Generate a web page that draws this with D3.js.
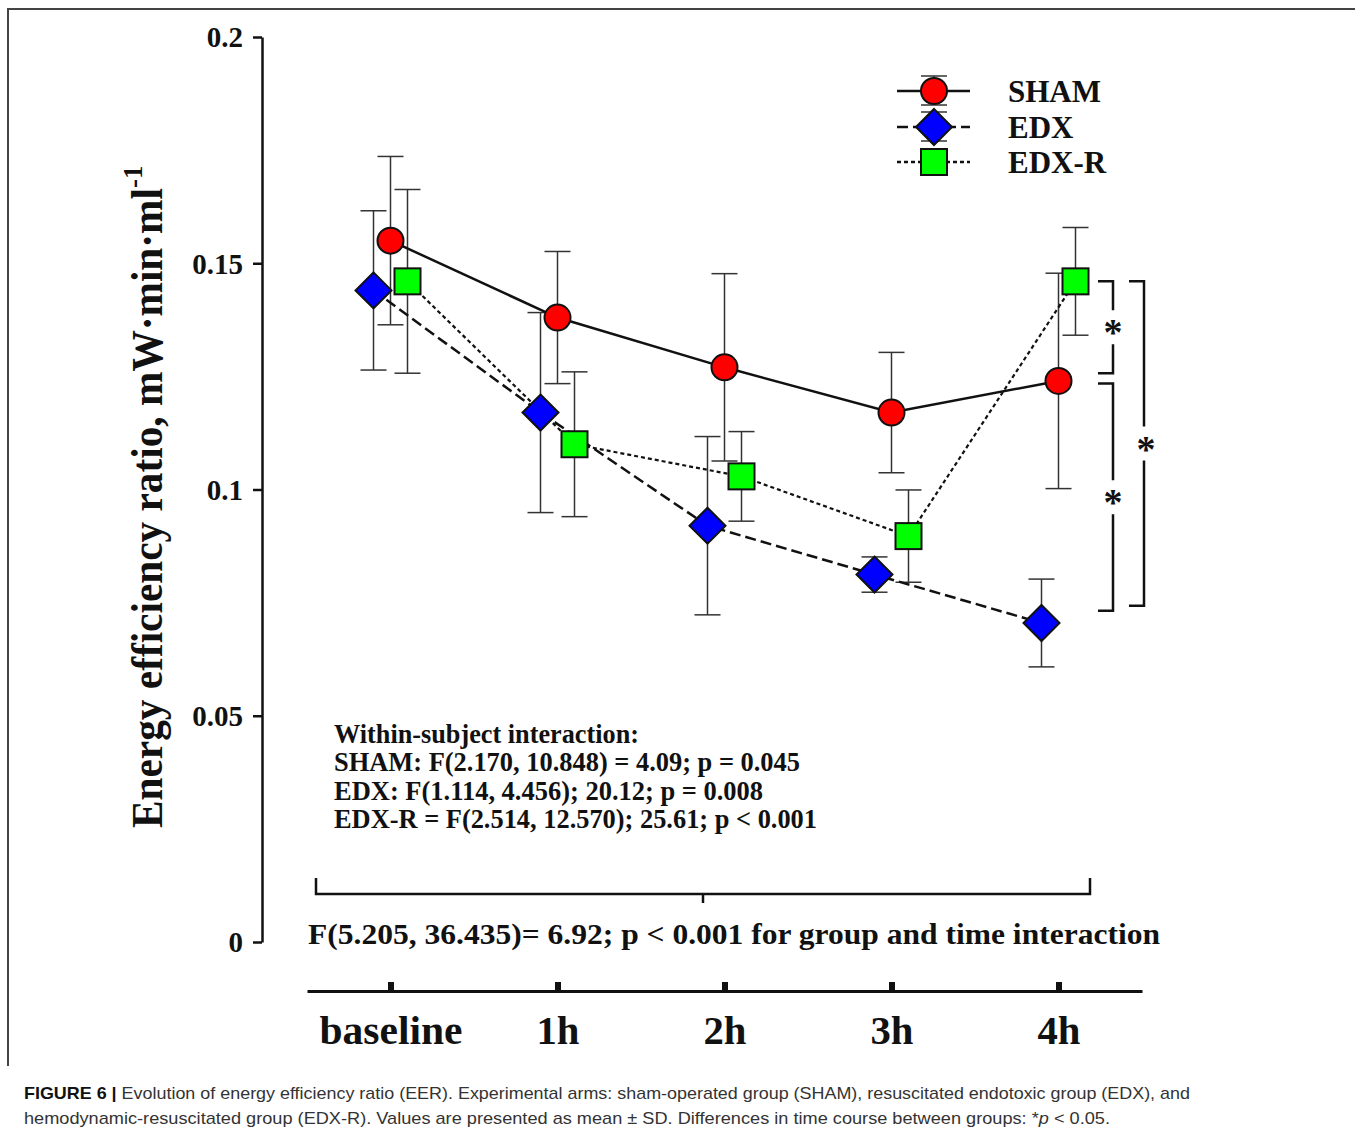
<!DOCTYPE html>
<html>
<head>
<meta charset="utf-8">
<script src="https://cdn.jsdelivr.net/npm/d3@7"></script>
<style>
  html, body { margin: 0; padding: 0; background: #fff; }
  svg { display: block; }
</style>
</head>
<body>
<svg id="chart" width="1355" height="1134"></svg>
<script>
// ---- data ----
const categories = ["baseline", "1h", "2h", "3h", "4h"];
const yTickValues = [0, 0.05, 0.1, 0.15, 0.2];
const yTickLabels = ["0", "0.05", "0.1", "0.15", "0.2"];
const seriesNames = ["SHAM", "EDX", "EDX-R"];
const shamMean = [0.155, 0.138, 0.127, 0.117, 0.124];
const shamSD   = [0.0186, 0.0146, 0.0207, 0.0133, 0.0238];
const edxMean  = [0.144, 0.117, 0.092, 0.0812, 0.0705];
const edxSD    = [0.0176, 0.0221, 0.0197, 0.0039, 0.0097];
const edxrMean = [0.146, 0.110, 0.1029, 0.0897, 0.146];
const edxrSD   = [0.0203, 0.0160, 0.0099, 0.0102, 0.0119];
// significance brackets at 4h (value extents)
const bracketTop    = [0.146, 0.1234, 0.146];
const bracketBottom = [0.1257, 0.0732, 0.0743];
const bracketLabel  = ["*", "*", "*"];
const statsLines = [
  "Within-subject interaction:",
  "SHAM: F(2.170, 10.848) = 4.09; p = 0.045",
  "EDX: F(1.114, 4.456); 20.12; p = 0.008",
  "EDX-R = F(2.514, 12.570); 25.61; p < 0.001"
];
const groupTimeText = "F(5.205, 36.435)= 6.92; p < 0.001 for group and time interaction";
const yLabel = "Energy efficiency ratio, mW\u00B7min\u00B7ml";

// ---- setup ----
const svg = d3.select("#chart");
const serif = "'Liberation Serif', 'Times New Roman', serif";
const sans = "'Liberation Sans', Arial, sans-serif";

// frame
svg.append("path").attr("d", "M8,1066 V9 H1355")
  .attr("fill", "none").attr("stroke", "#444").attr("stroke-width", 2);

const y = d3.scaleLinear().domain([0, 0.2]).range([942, 37]);
const x = d3.scalePoint().domain(categories).range([307, 1142]).padding(0.5);

// y axis
const yAxis = d3.axisLeft(y).tickValues(yTickValues)
  .tickFormat((d, i) => yTickLabels[i]).tickSize(9).tickSizeOuter(0).tickPadding(10);
const gy = svg.append("g").attr("transform", "translate(262,0)").call(yAxis);
gy.select(".domain").attr("stroke", "#111").attr("stroke-width", 2.5);
gy.selectAll(".tick line").attr("stroke", "#111").attr("stroke-width", 2.5);
gy.selectAll(".tick text").attr("font-family", serif).attr("font-weight", "bold")
  .attr("font-size", 29).attr("fill", "#111").attr("dy", "0.34em");

// x axis
const xAxis = d3.axisBottom(x).tickSize(-9).tickSizeOuter(0).tickPadding(0);
const gx = svg.append("g").attr("transform", "translate(0,991)").call(xAxis);
gx.select(".domain").attr("stroke", "#111").attr("stroke-width", 3);
gx.selectAll(".tick line").attr("stroke", "#111").attr("stroke-width", 6);
gx.selectAll(".tick text").attr("font-family", serif).attr("font-weight", "bold")
  .attr("font-size", 40).attr("fill", "#111").attr("y", 53).attr("dy", 0)
  .each(function(d) {
    if (d === "baseline") d3.select(this).attr("textLength", 143).attr("lengthAdjust", "spacingAndGlyphs");
    else d3.select(this).attr("textLength", 43).attr("lengthAdjust", "spacingAndGlyphs");
  });

// y label
const yl = svg.append("text").attr("transform", "translate(162,828) rotate(-90)")
  .attr("font-family", serif).attr("font-weight", "bold").attr("font-size", 44).attr("fill", "#111");
yl.append("tspan").attr("textLength", 640).attr("lengthAdjust", "spacingAndGlyphs").text(yLabel);
yl.append("tspan").attr("font-size", 27).attr("dy", -20).text("-1");

// series
const series = [
  { name: "SHAM", mean: shamMean, sd: shamSD, fill: "#ff0000", dash: null, offset: 0, shape: "circle" },
  { name: "EDX", mean: edxMean, sd: edxSD, fill: "#0000ff", dash: "11,5", offset: -17, shape: "diamond" },
  { name: "EDX-R", mean: edxrMean, sd: edxrSD, fill: "#00ff00", dash: "4,3", offset: 17, shape: "square" }
];

function drawMarker(g, shape, fill, cx, cy) {
  if (shape === "circle") {
    g.append("circle").attr("cx", cx).attr("cy", cy).attr("r", 13)
      .attr("fill", fill).attr("stroke", "#111").attr("stroke-width", 2);
  } else if (shape === "diamond") {
    const h = 18;
    g.append("path").attr("d", `M${cx},${cy - h} L${cx + h},${cy} L${cx},${cy + h} L${cx - h},${cy} Z`)
      .attr("fill", fill).attr("stroke", "#111").attr("stroke-width", 2);
  } else {
    const s = 13;
    g.append("rect").attr("x", cx - s).attr("y", cy - s).attr("width", 2 * s).attr("height", 2 * s)
      .attr("fill", fill).attr("stroke", "#111").attr("stroke-width", 2);
  }
}

const gErr = svg.append("g");
const gLines = svg.append("g");
const gMarks = svg.append("g");
const capW = 13;

series.forEach(s => {
  const pts = categories.map((c, i) => ({ cx: x(c) + s.offset, m: s.mean[i], sd: s.sd[i] }));
  pts.forEach(p => {
    const y1 = y(p.m + p.sd), y2 = y(p.m - p.sd);
    gErr.append("line").attr("x1", p.cx).attr("x2", p.cx).attr("y1", y1).attr("y2", y2)
      .attr("stroke", "#333").attr("stroke-width", 1.5);
    [y1, y2].forEach(yy => gErr.append("line").attr("x1", p.cx - capW).attr("x2", p.cx + capW)
      .attr("y1", yy).attr("y2", yy).attr("stroke", "#333").attr("stroke-width", 1.5));
  });
  const line = d3.line().x(p => p.cx).y(p => y(p.m));
  gLines.append("path").attr("d", line(pts)).attr("fill", "none").attr("stroke", "#111")
    .attr("stroke-width", s.dash === "4,3" ? 2.2 : 2.5).attr("stroke-dasharray", s.dash);
  pts.forEach(p => drawMarker(gMarks, s.shape, s.fill, p.cx, y(p.m)));
});

// legend
const legY = [91, 127, 162];
const gLeg = svg.append("g");
series.forEach((s, i) => {
  const ly = legY[i];
  gLeg.append("line").attr("x1", 897).attr("x2", 970).attr("y1", ly).attr("y2", ly)
    .attr("stroke", "#111").attr("stroke-width", 2.5).attr("stroke-dasharray", s.dash);
  if (i < 2) {
    [ly - 15, ly + 14].forEach(yy => gLeg.append("line").attr("x1", 934 - 13).attr("x2", 934 + 13)
      .attr("y1", yy).attr("y2", yy).attr("stroke", "#333").attr("stroke-width", 1.5));
    gLeg.append("line").attr("x1", 934).attr("x2", 934).attr("y1", ly - 15).attr("y2", ly + 14)
      .attr("stroke", "#333").attr("stroke-width", 1.5);
  }
  drawMarker(gLeg, s.shape, s.fill, 934, ly);
  gLeg.append("text").attr("x", 1008).attr("y", ly + 11).attr("font-family", serif)
    .attr("font-weight", "bold").attr("font-size", 31).attr("fill", "#111").text(s.name);
});

// significance brackets
const gSig = svg.append("g").attr("stroke", "#111").attr("stroke-width", 2.5).attr("fill", "none");
const bx = [1113, 1113, 1144];
bracketTop.forEach((t, i) => {
  const yt = y(t), yb = y(bracketBottom[i]);
  const mid = (yt + yb) / 2;
  const gap = 17;
  const xv = bx[i];
  gSig.append("path").attr("d", `M${xv - 15},${yt} H${xv} V${mid - gap}`);
  gSig.append("path").attr("d", `M${xv},${mid + gap} V${yb} H${xv - 15}`);
  svg.append("text").attr("x", xv + (i === 2 ? 2 : 0)).attr("y", mid + 18).attr("text-anchor", "middle")
    .attr("font-family", serif).attr("font-weight", "bold").attr("font-size", 38).attr("fill", "#111").text(bracketLabel[i]);
});

// bottom group x time bracket
svg.append("path").attr("d", "M316,878 V894 H1090 V878 M703,894 V903")
  .attr("fill", "none").attr("stroke", "#111").attr("stroke-width", 2.5);
svg.append("text").attr("x", 308).attr("y", 944).attr("font-family", serif).attr("font-weight", "bold")
  .attr("font-size", 30).attr("fill", "#111").attr("textLength", 852).attr("lengthAdjust", "spacingAndGlyphs")
  .text(groupTimeText);

// stats block
const statsY = [743, 771, 800, 828];
const statsW = [305, 466, 429, 483];
statsLines.forEach((s, i) => {
  svg.append("text").attr("x", 334).attr("y", statsY[i]).attr("font-family", serif)
    .attr("font-weight", "bold").attr("font-size", 26.5).attr("fill", "#111")
    .attr("textLength", statsW[i]).attr("lengthAdjust", "spacingAndGlyphs").text(s);
});

// caption
const c1 = svg.append("text").attr("x", 24).attr("y", 1099).attr("font-family", sans)
  .attr("font-size", 17).attr("fill", "#333").attr("textLength", 1166).attr("lengthAdjust", "spacingAndGlyphs");
c1.append("tspan").attr("font-weight", "bold").attr("fill", "#111").text("FIGURE 6 | ");
c1.append("tspan").text("Evolution of energy efficiency ratio (EER). Experimental arms: sham-operated group (SHAM), resuscitated endotoxic group (EDX), and");
const c2 = svg.append("text").attr("x", 24).attr("y", 1124).attr("font-family", sans)
  .attr("font-size", 17).attr("fill", "#333").attr("textLength", 1086).attr("lengthAdjust", "spacingAndGlyphs");
c2.append("tspan").text("hemodynamic-resuscitated group (EDX-R). Values are presented as mean \u00B1 SD. Differences in time course between groups: *");
c2.append("tspan").attr("font-style", "italic").text("p");
c2.append("tspan").text(" < 0.05.");
</script>
</body>
</html>
